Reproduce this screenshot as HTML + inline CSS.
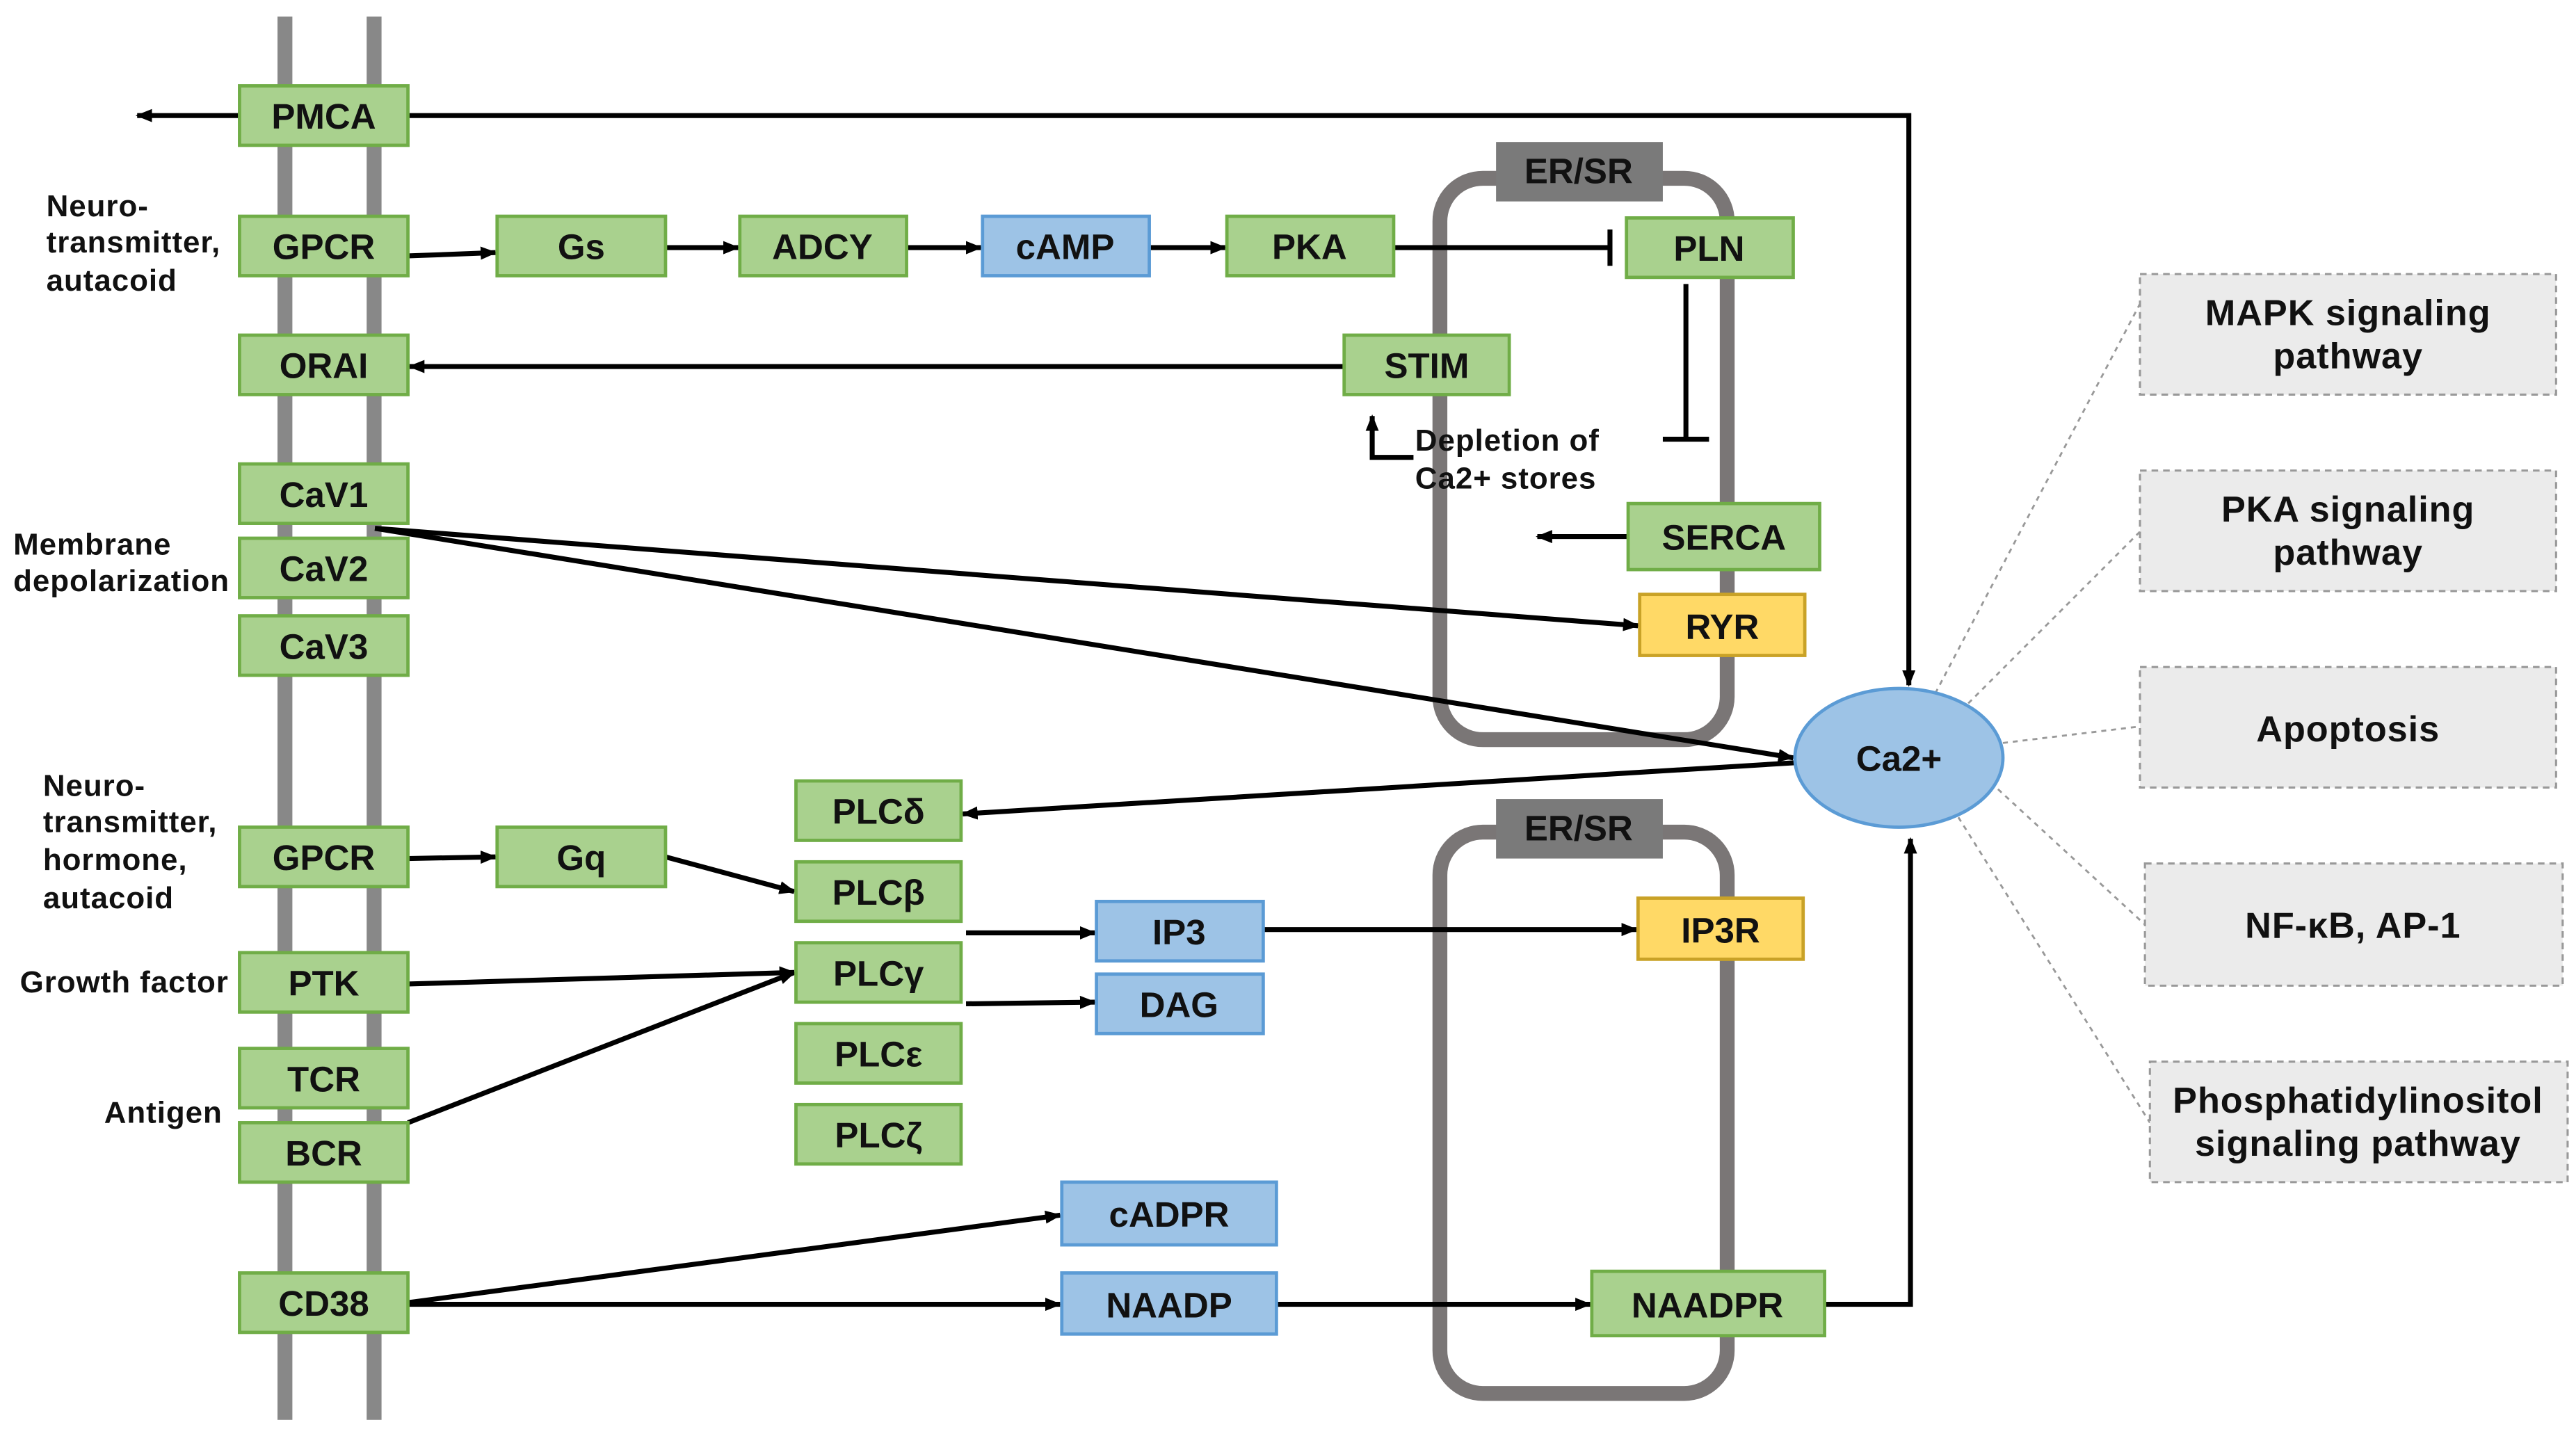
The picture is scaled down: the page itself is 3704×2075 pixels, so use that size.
<!DOCTYPE html>
<html><head><meta charset="utf-8"><style>
html,body{margin:0;padding:0;background:#fff;}
svg{display:block;}
text{font-family:"Liberation Sans",Arial,sans-serif;font-weight:bold;fill:#111;}
.g{fill:#a9d18e;stroke:#70ad47;stroke-width:2;}
.b{fill:#9dc3e6;stroke:#5b9bd5;stroke-width:2;}
.y{fill:#ffd966;stroke:#c9a227;stroke-width:2;}
.bt{font-size:21.5px;text-anchor:middle;}
.lb{font-size:18.5px;letter-spacing:0.4px;}
.ln{stroke:#000;stroke-width:3;fill:none;}
.ds{stroke:#999;stroke-width:1.2;stroke-dasharray:3,3;fill:none;}
.rb{fill:#ebebeb;stroke:#999;stroke-width:1.3;stroke-dasharray:4,3;}
.rt{font-size:22px;text-anchor:middle;letter-spacing:0.4px;}
</style></head><body>
<svg width="3704" height="2075" viewBox="0 0 1560 874" xmlns="http://www.w3.org/2000/svg">
<defs><marker id="a" markerWidth="10" markerHeight="8" refX="9" refY="4" orient="auto" markerUnits="userSpaceOnUse"><path d="M0,0 L10,4 L0,8 z" fill="#000"/></marker></defs>
<rect x="168" y="10" width="9" height="850" fill="#888"/>
<rect x="222" y="10" width="9" height="850" fill="#888"/>
<rect x="872" y="108" width="174" height="340" rx="26" fill="none" stroke="#7a7676" stroke-width="9"/>
<rect x="872" y="504" width="174" height="340" rx="26" fill="none" stroke="#7a7676" stroke-width="9"/>
<rect x="906" y="86" width="101" height="36" fill="#7a7a7a"/><text x="956" y="111" class="bt">ER/SR</text>
<rect x="906" y="484" width="101" height="36" fill="#7a7a7a"/><text x="956" y="509" class="bt">ER/SR</text>
<line class="ln" x1="145" y1="70" x2="83" y2="70" marker-end="url(#a)"/>
<polyline class="ln" points="247,70 1156,70 1156,415" marker-end="url(#a)"/>
<line class="ln" x1="247" y1="155" x2="300" y2="153" marker-end="url(#a)"/>
<line class="ln" x1="403" y1="150" x2="447" y2="150" marker-end="url(#a)"/>
<line class="ln" x1="549" y1="150" x2="594" y2="150" marker-end="url(#a)"/>
<line class="ln" x1="696" y1="150" x2="742" y2="150" marker-end="url(#a)"/>
<line class="ln" x1="844" y1="150" x2="975" y2="150"/><line class="ln" x1="975" y1="139" x2="975" y2="161"/>
<line class="ln" x1="1021" y1="172" x2="1021" y2="266"/><line class="ln" x1="1007" y1="266" x2="1035" y2="266"/>
<line class="ln" x1="814" y1="222" x2="248" y2="222" marker-end="url(#a)"/>
<polyline class="ln" points="856,277 831,277 831,252" marker-end="url(#a)"/>
<line class="ln" x1="986" y1="325" x2="931" y2="325" marker-end="url(#a)"/>
<line class="ln" x1="227" y1="320" x2="992" y2="379" marker-end="url(#a)"/>
<line class="ln" x1="227" y1="320" x2="1086" y2="459" marker-end="url(#a)"/>
<line class="ln" x1="1087" y1="462" x2="583" y2="493" marker-end="url(#a)"/>
<line class="ln" x1="247" y1="520" x2="300" y2="519" marker-end="url(#a)"/>
<line class="ln" x1="403" y1="519" x2="481" y2="540" marker-end="url(#a)"/>
<line class="ln" x1="247" y1="596" x2="481" y2="589" marker-end="url(#a)"/>
<line class="ln" x1="247" y1="680" x2="481" y2="589" marker-end="url(#a)"/>
<line class="ln" x1="585" y1="565" x2="663" y2="565" marker-end="url(#a)"/>
<line class="ln" x1="585" y1="608" x2="663" y2="607" marker-end="url(#a)"/>
<line class="ln" x1="765" y1="563" x2="991" y2="563" marker-end="url(#a)"/>
<line class="ln" x1="247" y1="789" x2="642" y2="736" marker-end="url(#a)"/>
<line class="ln" x1="247" y1="790" x2="642" y2="790" marker-end="url(#a)"/>
<line class="ln" x1="773" y1="790" x2="963" y2="790" marker-end="url(#a)"/>
<polyline class="ln" points="1105,790 1157,790 1157,508" marker-end="url(#a)"/>
<line class="ds" x1="1172" y1="420" x2="1296" y2="184"/>
<line class="ds" x1="1192" y1="426" x2="1296" y2="322"/>
<line class="ds" x1="1213" y1="450" x2="1296" y2="440"/>
<line class="ds" x1="1210" y1="478" x2="1299" y2="560"/>
<line class="ds" x1="1186" y1="495" x2="1302" y2="680"/>
<ellipse cx="1150" cy="459" rx="63" ry="42" class="b"/><text x="1150" y="467" class="bt">Ca2+</text>
<g>
<rect class="g" x="145" y="52" width="102" height="36"/><text x="196" y="78" class="bt">PMCA</text>
<rect class="g" x="145" y="131" width="102" height="36"/><text x="196" y="157" class="bt">GPCR</text>
<rect class="g" x="145" y="203" width="102" height="36"/><text x="196" y="229" class="bt">ORAI</text>
<rect class="g" x="145" y="281" width="102" height="36"/><text x="196" y="307" class="bt">CaV1</text>
<rect class="g" x="145" y="326" width="102" height="36"/><text x="196" y="352" class="bt">CaV2</text>
<rect class="g" x="145" y="373" width="102" height="36"/><text x="196" y="399" class="bt">CaV3</text>
<rect class="g" x="145" y="501" width="102" height="36"/><text x="196" y="527" class="bt">GPCR</text>
<rect class="g" x="145" y="577" width="102" height="36"/><text x="196" y="603" class="bt">PTK</text>
<rect class="g" x="145" y="635" width="102" height="36"/><text x="196" y="661" class="bt">TCR</text>
<rect class="g" x="145" y="680" width="102" height="36"/><text x="196" y="706" class="bt">BCR</text>
<rect class="g" x="145" y="771" width="102" height="36"/><text x="196" y="797" class="bt">CD38</text>
<rect class="g" x="301" y="131" width="102" height="36"/><text x="352" y="157" class="bt">Gs</text>
<rect class="g" x="448" y="131" width="101" height="36"/><text x="498" y="157" class="bt">ADCY</text>
<rect class="b" x="595" y="131" width="101" height="36"/><text x="645" y="157" class="bt">cAMP</text>
<rect class="g" x="743" y="131" width="101" height="36"/><text x="793" y="157" class="bt">PKA</text>
<rect class="g" x="985" y="132" width="101" height="36"/><text x="1035" y="158" class="bt">PLN</text>
<rect class="g" x="814" y="203" width="100" height="36"/><text x="864" y="229" class="bt">STIM</text>
<rect class="g" x="986" y="305" width="116" height="40"/><text x="1044" y="333" class="bt">SERCA</text>
<rect class="y" x="993" y="360" width="100" height="37"/><text x="1043" y="387" class="bt">RYR</text>
<rect class="g" x="301" y="501" width="102" height="36"/><text x="352" y="527" class="bt">Gq</text>
<rect class="g" x="482" y="473" width="100" height="36"/><text x="532" y="499" class="bt">PLCδ</text>
<rect class="g" x="482" y="522" width="100" height="36"/><text x="532" y="548" class="bt">PLCβ</text>
<rect class="g" x="482" y="571" width="100" height="36"/><text x="532" y="597" class="bt">PLCγ</text>
<rect class="g" x="482" y="620" width="100" height="36"/><text x="532" y="646" class="bt">PLCε</text>
<rect class="g" x="482" y="669" width="100" height="36"/><text x="532" y="695" class="bt">PLCζ</text>
<rect class="b" x="664" y="546" width="101" height="36"/><text x="714" y="572" class="bt">IP3</text>
<rect class="b" x="664" y="590" width="101" height="36"/><text x="714" y="616" class="bt">DAG</text>
<rect class="y" x="992" y="544" width="100" height="37"/><text x="1042" y="571" class="bt">IP3R</text>
<rect class="b" x="643" y="716" width="130" height="38"/><text x="708" y="743" class="bt">cADPR</text>
<rect class="b" x="643" y="771" width="130" height="37"/><text x="708" y="798" class="bt">NAADP</text>
<rect class="g" x="964" y="770" width="141" height="39"/><text x="1034" y="798" class="bt">NAADPR</text>
</g>
<text class="lb" x="28" y="131">Neuro-</text>
<text class="lb" x="28" y="153">transmitter,</text>
<text class="lb" x="28" y="176">autacoid</text>
<text class="lb" x="8" y="336">Membrane</text>
<text class="lb" x="8" y="358">depolarization</text>
<text class="lb" x="26" y="482">Neuro-</text>
<text class="lb" x="26" y="504">transmitter,</text>
<text class="lb" x="26" y="527">hormone,</text>
<text class="lb" x="26" y="550">autacoid</text>
<text class="lb" x="12" y="601">Growth factor</text>
<text class="lb" x="63" y="680">Antigen</text>
<text class="lb" x="857" y="273">Depletion of</text>
<text class="lb" x="857" y="296">Ca2+ stores</text>
<rect class="rb" x="1296" y="166" width="252" height="73"/><text class="rt" x="1422" y="197">MAPK signaling</text><text class="rt" x="1422" y="223">pathway</text>
<rect class="rb" x="1296" y="285" width="252" height="73"/><text class="rt" x="1422" y="316">PKA signaling</text><text class="rt" x="1422" y="342">pathway</text>
<rect class="rb" x="1296" y="404" width="252" height="73"/><text class="rt" x="1422" y="449">Apoptosis</text>
<rect class="rb" x="1299" y="523" width="253" height="74"/><text class="rt" x="1425" y="568">NF-κB, AP-1</text>
<rect class="rb" x="1302" y="643" width="253" height="73"/><text class="rt" x="1428" y="674">Phosphatidylinositol</text><text class="rt" x="1428" y="700">signaling pathway</text>
</svg>
</body></html>
